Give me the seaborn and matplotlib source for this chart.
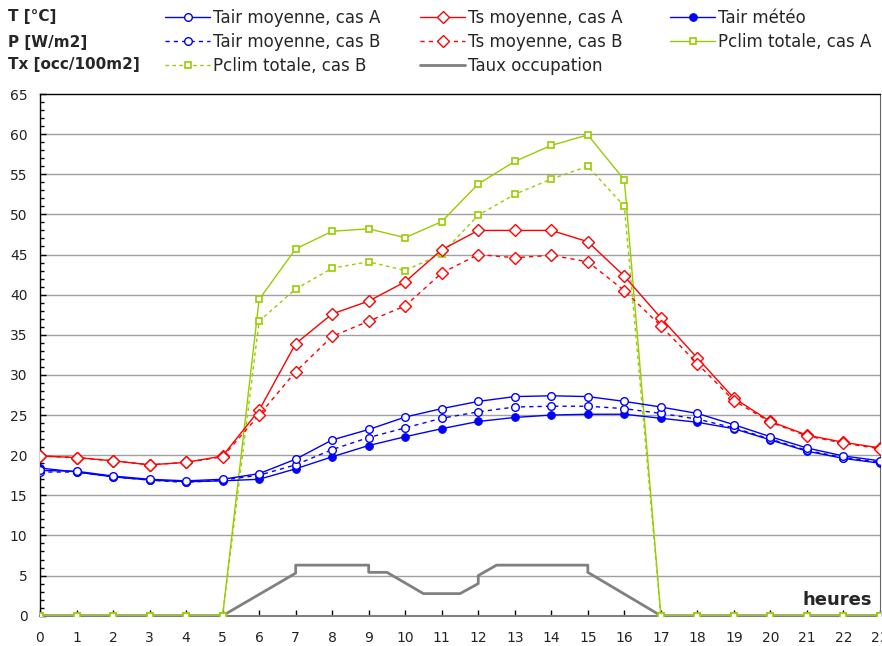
import matplotlib
matplotlib.use('Agg')
import matplotlib.pyplot as plt
from matplotlib.ticker import MultipleLocator
import seaborn as sns

# hourly data
hours = list(range(24))

tair_a = [18.1, 18.0, 17.4, 17.0, 16.8, 17.0, 17.7, 19.5, 21.9, 23.2, 24.75, 25.8,
          26.7, 27.3, 27.4, 27.3, 26.7, 26.0, 25.2, 23.8, 22.3, 20.9, 19.9, 19.3]
tair_b = [17.9, 17.9, 17.3, 16.9, 16.6, 16.9, 17.5, 18.8, 20.7, 22.2, 23.4, 24.6,
          25.4, 26.0, 26.1, 26.1, 25.8, 25.2, 24.5, 23.4, 22.0, 20.6, 19.7, 19.1]
tair_meteo = [18.4, 17.9, 17.3, 16.9, 16.7, 16.8, 17.0, 18.3, 19.8, 21.2, 22.3, 23.3,
              24.2, 24.7, 25.0, 25.1, 25.1, 24.6, 24.1, 23.3, 21.9, 20.5, 19.6, 19.0]
ts_a = [19.9, 19.7, 19.3, 18.8, 19.1, 19.9, 25.6, 33.9, 37.6, 39.2, 41.6, 45.6,
        48.0, 48.0, 48.0, 46.6, 42.3, 37.1, 32.1, 27.1, 24.2, 22.5, 21.6, 20.9]
ts_b = [19.9, 19.7, 19.3, 18.8, 19.1, 19.8, 25.0, 30.4, 34.8, 36.7, 38.6, 42.7,
        45.0, 44.6, 44.9, 44.1, 40.5, 36.1, 31.4, 26.8, 24.1, 22.4, 21.5, 20.8]
pclim_a = [0, 0, 0, 0, 0, 0, 39.4, 45.7, 47.9, 48.2, 47.1, 49.1,
           53.8, 56.6, 58.6, 59.9, 54.3, 0, 0, 0, 0, 0, 0, 0]
pclim_b = [0, 0, 0, 0, 0, 0, 36.7, 40.7, 43.3, 44.1, 43.0, 45.1,
           49.9, 52.5, 54.4, 56.0, 51.0, 0, 0, 0, 0, 0, 0, 0]

# occupation profile (not hourly)
occ_x = [0, 5, 7, 7, 9, 9, 9.5, 10.5, 11.5, 12, 12, 12.5, 15, 15, 17, 23]
occ_y = [0, 0, 5.3, 6.3, 6.3, 5.4, 5.4, 2.75, 2.75, 4.0, 5.0, 6.3, 6.3, 5.4, 0, 0]

sns.set_style('white')
plt.rcParams['font.family'] = ['DejaVu Sans']

BLUE = '#0000ff'
RED = '#ff0000'
GREEN = '#99cc00'
GREY = '#808080'

fig = plt.figure(figsize=(8.82, 6.46), dpi=100)
ax = fig.add_axes([40 / 882, 1 - 615.7 / 646, 840 / 882, (615.7 - 94) / 646])

# horizontal grid
for v in range(5, 65, 5):
    ax.axhline(v, color='#a0a0a0', lw=1, zorder=0)

ms = 5.5
sns.lineplot(x=occ_x, y=occ_y, ax=ax, color=GREY, lw=2, estimator=None, sort=False,
             label='Taux occupation', zorder=2)
sns.lineplot(x=hours, y=pclim_a, ax=ax, color=GREEN, lw=1, marker='s', ms=5,
             mfc='white', mec=GREEN, mew=1.2, label='Pclim totale, cas A', zorder=3)
sns.lineplot(x=hours, y=pclim_b, ax=ax, color=GREEN, lw=1, ls=(0, (2.5, 2.5)), marker='s', ms=5,
             mfc='white', mec=GREEN, mew=1.2, label='Pclim totale, cas B', zorder=3)
sns.lineplot(x=hours, y=ts_a, ax=ax, color=RED, lw=1, marker='D', ms=6,
             mfc='white', mec=RED, mew=1, label='Ts moyenne, cas A', zorder=4)
sns.lineplot(x=hours, y=ts_b, ax=ax, color=RED, lw=1, ls=(0, (3, 3)), marker='D', ms=6,
             mfc='white', mec=RED, mew=1, label='Ts moyenne, cas B', zorder=4)
sns.lineplot(x=hours, y=tair_meteo, ax=ax, color=BLUE, lw=1, marker='o', ms=ms,
             mfc=BLUE, mec=BLUE, label='Tair météo', zorder=5)
sns.lineplot(x=hours, y=tair_b, ax=ax, color=BLUE, lw=1, ls=(0, (3, 3)), marker='o', ms=ms,
             mfc='white', mec=BLUE, mew=1, label='Tair moyenne, cas B', zorder=5)
sns.lineplot(x=hours, y=tair_a, ax=ax, color=BLUE, lw=1, marker='o', ms=ms,
             mfc='white', mec=BLUE, mew=1, label='Tair moyenne, cas A', zorder=5)

ax.set_xlim(0, 23)
ax.set_ylim(0, 65)
ax.set_xticks(hours)
ax.yaxis.set_major_locator(MultipleLocator(5))
ax.yaxis.set_minor_locator(MultipleLocator(1))
ax.tick_params(axis='y', which='major', direction='in', length=4, width=1, color='black',
               labelsize=10, pad=9, left=True, labelcolor='#222222')
ax.tick_params(axis='y', which='minor', direction='in', length=3, width=1, color='black', left=True)
ax.tick_params(axis='x', direction='in', length=4, width=1, color='black',
               labelsize=10, pad=11, bottom=True, labelcolor='#222222')
ax.set_xlabel('')
ax.set_ylabel('')
for side in ['left', 'top']:
    ax.spines[side].set_color('black')
    ax.spines[side].set_linewidth(1)
ax.spines['right'].set_color('#666666')
ax.spines['bottom'].set_color(GREY)
ax.spines['bottom'].set_linewidth(1.5)

ax.text(0.99, 0.03, 'heures', transform=ax.transAxes, ha='right', va='center',
        fontsize=13, fontweight='bold')

# legend, three columns placed like the original
handles, labels = ax.get_legend_handles_labels()
ax.get_legend().remove()
hd = dict(zip(labels, handles))
cols = [
    (165, ['Tair moyenne, cas A', 'Tair moyenne, cas B', 'Pclim totale, cas B']),
    (420, ['Ts moyenne, cas A', 'Ts moyenne, cas B', 'Taux occupation']),
    (670, ['Tair météo', 'Pclim totale, cas A']),
]
for x0, names in cols:
    fig.legend([hd[n] for n in names], names, loc='upper left',
               bbox_to_anchor=(x0 / 882, 1 - 9 / 646), frameon=False, fontsize=12,
               handlelength=2.7, handletextpad=0.2, labelspacing=0.36,
               borderpad=0, borderaxespad=0)

for y, t in [(17, 'T [°C]'), (42, 'P [W/m2]'), (64, 'Tx [occ/100m2]')]:
    fig.text(8 / 882, 1 - y / 646, t, fontsize=11, fontweight='bold', va='center', ha='left')

fig.savefig('out.png', dpi=100)
